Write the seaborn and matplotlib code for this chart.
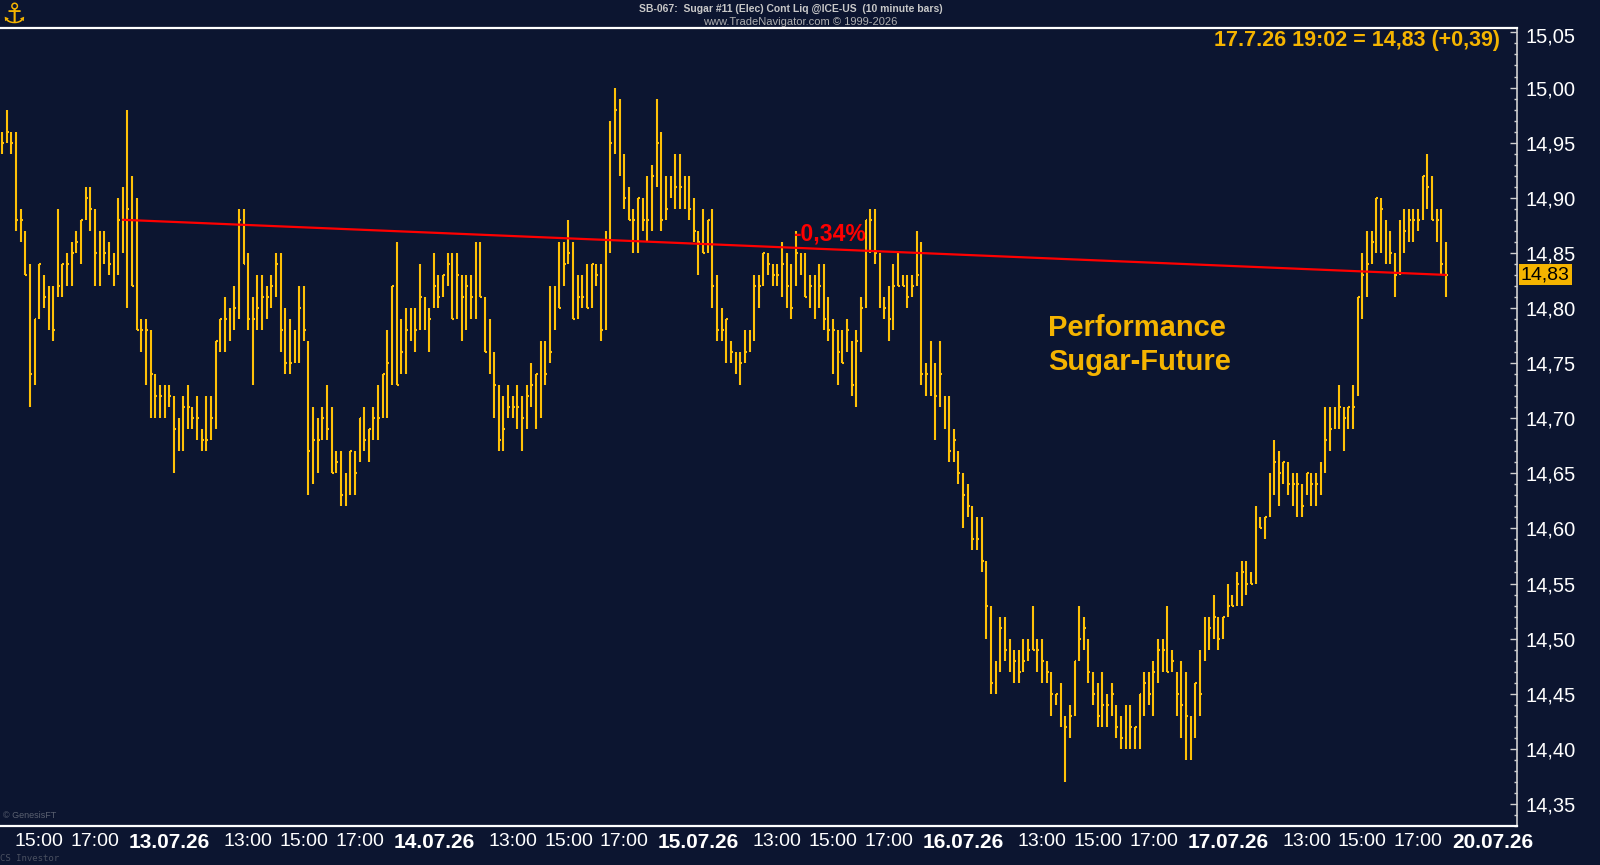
import matplotlib
matplotlib.use("Agg")
import matplotlib.pyplot as plt
import matplotlib.transforms as mtransforms
from matplotlib import ticker
import seaborn as sns
import pandas as pd

# sugar #11, 10 minute bars, session 09:30-19:00, first bar of 10.07.26 at 13:40
day_labels = ["13.07.26", "14.07.26", "15.07.26", "16.07.26", "17.07.26", "20.07.26"]
time_labels = ["13:00", "15:00", "17:00"]
first_bar_time = "13:40"
last_quote = "17.7.26 19:02 = 14,83 (+0,39)"
trend_from_bar = 26

highs = [
    14.96, 14.98, 14.96, 14.96, 14.89, 14.87, 14.84, 14.79, 14.84, 14.83, 14.82, 14.82, 14.89, 14.84, 14.85, 14.86,
    14.87, 14.88, 14.91, 14.91, 14.89, 14.87, 14.87, 14.86, 14.85, 14.90, 14.91, 14.98, 14.92, 14.90, 14.79, 14.79,
    14.78, 14.74, 14.73, 14.73, 14.73, 14.72, 14.70, 14.72, 14.73, 14.71, 14.72, 14.69, 14.72, 14.72, 14.77, 14.79,
    14.81, 14.80, 14.82, 14.89, 14.89, 14.85, 14.81, 14.83, 14.83, 14.82, 14.83, 14.85, 14.85, 14.80, 14.79, 14.78,
    14.82, 14.82, 14.77, 14.71, 14.70, 14.71, 14.73, 14.71, 14.67, 14.67, 14.65, 14.67, 14.67, 14.70, 14.71, 14.69,
    14.71, 14.73, 14.74, 14.78, 14.82, 14.86, 14.79, 14.80, 14.80, 14.80, 14.84, 14.81, 14.80, 14.85, 14.83, 14.83,
    14.85, 14.85, 14.85, 14.83, 14.83, 14.83, 14.86, 14.86, 14.81, 14.79, 14.76, 14.73, 14.72, 14.73, 14.72, 14.73,
    14.72, 14.73, 14.75, 14.74, 14.77, 14.77, 14.82, 14.82, 14.86, 14.86, 14.88, 14.86, 14.83, 14.83, 14.84, 14.84,
    14.84, 14.84, 14.87, 14.97, 15.00, 14.99, 14.94, 14.91, 14.89, 14.90, 14.90, 14.92, 14.93, 14.99, 14.96, 14.92,
    14.92, 14.94, 14.94, 14.92, 14.92, 14.90, 14.87, 14.89, 14.88, 14.89, 14.83, 14.80, 14.79, 14.77, 14.76, 14.76,
    14.78, 14.78, 14.83, 14.83, 14.85, 14.85, 14.84, 14.84, 14.86, 14.85, 14.84, 14.87, 14.85, 14.85, 14.83, 14.83,
    14.84, 14.84, 14.81, 14.79, 14.78, 14.78, 14.79, 14.77, 14.78, 14.81, 14.88, 14.89, 14.89, 14.85, 14.81, 14.82,
    14.84, 14.85, 14.83, 14.83, 14.83, 14.87, 14.86, 14.75, 14.77, 14.75, 14.77, 14.72, 14.72, 14.69, 14.67, 14.65,
    14.64, 14.62, 14.61, 14.61, 14.57, 14.53, 14.48, 14.52, 14.52, 14.50, 14.49, 14.49, 14.50, 14.50, 14.53, 14.50,
    14.50, 14.48, 14.47, 14.45, 14.46, 14.43, 14.44, 14.48, 14.53, 14.52, 14.50, 14.47, 14.46, 14.47, 14.45, 14.46,
    14.44, 14.43, 14.44, 14.44, 14.42, 14.45, 14.47, 14.47, 14.48, 14.50, 14.50, 14.53, 14.49, 14.47, 14.48, 14.47,
    14.43, 14.46, 14.49, 14.52, 14.52, 14.54, 14.52, 14.52, 14.55, 14.54, 14.56, 14.57, 14.57, 14.56, 14.62, 14.61,
    14.61, 14.65, 14.68, 14.67, 14.66, 14.66, 14.65, 14.65, 14.64, 14.65, 14.65, 14.65, 14.66, 14.71, 14.71, 14.71,
    14.73, 14.71, 14.71, 14.73, 14.81, 14.85, 14.87, 14.87, 14.90, 14.90, 14.88, 14.87, 14.85, 14.88, 14.89, 14.89,
    14.89, 14.89, 14.92, 14.94, 14.92, 14.89, 14.89, 14.86,
]
lows = [
    14.94, 14.95, 14.94, 14.87, 14.86, 14.83, 14.71, 14.73, 14.79, 14.80, 14.78, 14.77, 14.81, 14.81, 14.82, 14.82,
    14.85, 14.84, 14.88, 14.87, 14.82, 14.82, 14.84, 14.83, 14.82, 14.83, 14.85, 14.80, 14.82, 14.78, 14.76, 14.73,
    14.70, 14.70, 14.70, 14.70, 14.71, 14.65, 14.67, 14.67, 14.69, 14.69, 14.68, 14.67, 14.67, 14.68, 14.69, 14.76,
    14.76, 14.77, 14.78, 14.79, 14.84, 14.78, 14.73, 14.78, 14.78, 14.79, 14.80, 14.81, 14.76, 14.74, 14.74, 14.75,
    14.75, 14.77, 14.63, 14.64, 14.65, 14.68, 14.68, 14.65, 14.65, 14.62, 14.62, 14.63, 14.63, 14.66, 14.67, 14.66,
    14.68, 14.68, 14.70, 14.70, 14.73, 14.73, 14.74, 14.74, 14.77, 14.76, 14.78, 14.78, 14.76, 14.80, 14.80, 14.81,
    14.82, 14.79, 14.79, 14.77, 14.78, 14.79, 14.79, 14.81, 14.76, 14.74, 14.70, 14.67, 14.67, 14.70, 14.70, 14.69,
    14.67, 14.69, 14.71, 14.69, 14.70, 14.73, 14.75, 14.78, 14.80, 14.82, 14.84, 14.79, 14.79, 14.80, 14.80, 14.80,
    14.82, 14.77, 14.78, 14.85, 14.94, 14.92, 14.89, 14.88, 14.85, 14.85, 14.87, 14.86, 14.87, 14.91, 14.87, 14.88,
    14.90, 14.89, 14.89, 14.89, 14.88, 14.86, 14.83, 14.85, 14.85, 14.80, 14.77, 14.77, 14.75, 14.75, 14.74, 14.73,
    14.75, 14.76, 14.77, 14.80, 14.82, 14.83, 14.82, 14.82, 14.81, 14.80, 14.79, 14.82, 14.83, 14.81, 14.80, 14.79,
    14.80, 14.78, 14.77, 14.74, 14.73, 14.75, 14.76, 14.72, 14.71, 14.76, 14.80, 14.85, 14.84, 14.80, 14.79, 14.77,
    14.78, 14.82, 14.82, 14.80, 14.81, 14.82, 14.73, 14.72, 14.72, 14.68, 14.71, 14.69, 14.66, 14.66, 14.64, 14.60,
    14.61, 14.58, 14.58, 14.56, 14.50, 14.45, 14.45, 14.47, 14.48, 14.47, 14.46, 14.46, 14.47, 14.48, 14.49, 14.47,
    14.46, 14.46, 14.43, 14.44, 14.42, 14.37, 14.41, 14.43, 14.48, 14.49, 14.46, 14.44, 14.42, 14.42, 14.42, 14.43,
    14.41, 14.40, 14.40, 14.40, 14.40, 14.40, 14.43, 14.44, 14.43, 14.46, 14.47, 14.47, 14.47, 14.43, 14.41, 14.39,
    14.39, 14.41, 14.43, 14.48, 14.49, 14.50, 14.49, 14.50, 14.52, 14.53, 14.53, 14.53, 14.54, 14.55, 14.55, 14.60,
    14.59, 14.61, 14.63, 14.62, 14.64, 14.63, 14.62, 14.61, 14.61, 14.63, 14.62, 14.62, 14.63, 14.65, 14.67, 14.69,
    14.69, 14.67, 14.69, 14.69, 14.72, 14.79, 14.81, 14.84, 14.85, 14.85, 14.84, 14.84, 14.81, 14.83, 14.85, 14.86,
    14.86, 14.87, 14.88, 14.89, 14.88, 14.86, 14.83, 14.81,
]
closes = [
    14.95, 14.96, 14.95, 14.88, 14.88, 14.83, 14.74, 14.79, 14.84, 14.81, 14.80, 14.78, 14.82, 14.84, 14.84, 14.85,
    14.86, 14.88, 14.90, 14.89, 14.85, 14.85, 14.85, 14.84, 14.84, 14.88, 14.88, 14.89, 14.82, 14.78, 14.78, 14.78,
    14.74, 14.72, 14.72, 14.72, 14.72, 14.69, 14.68, 14.71, 14.71, 14.70, 14.70, 14.68, 14.68, 14.70, 14.77, 14.79,
    14.79, 14.78, 14.80, 14.88, 14.84, 14.79, 14.79, 14.80, 14.81, 14.81, 14.82, 14.84, 14.78, 14.75, 14.75, 14.77,
    14.80, 14.78, 14.67, 14.68, 14.68, 14.70, 14.69, 14.65, 14.66, 14.63, 14.63, 14.67, 14.65, 14.70, 14.68, 14.69,
    14.70, 14.70, 14.74, 14.75, 14.82, 14.73, 14.76, 14.78, 14.79, 14.78, 14.81, 14.79, 14.79, 14.82, 14.81, 14.83,
    14.84, 14.79, 14.83, 14.81, 14.82, 14.81, 14.85, 14.81, 14.76, 14.77, 14.73, 14.68, 14.69, 14.71, 14.71, 14.71,
    14.70, 14.72, 14.73, 14.74, 14.74, 14.74, 14.76, 14.80, 14.80, 14.84, 14.85, 14.79, 14.81, 14.81, 14.80, 14.84,
    14.83, 14.78, 14.86, 14.95, 14.98, 14.93, 14.90, 14.88, 14.88, 14.90, 14.88, 14.88, 14.92, 14.95, 14.88, 14.89,
    14.91, 14.91, 14.91, 14.90, 14.89, 14.87, 14.86, 14.85, 14.88, 14.82, 14.78, 14.78, 14.79, 14.76, 14.75, 14.75,
    14.76, 14.77, 14.82, 14.82, 14.85, 14.84, 14.83, 14.83, 14.84, 14.82, 14.80, 14.85, 14.84, 14.81, 14.82, 14.82,
    14.82, 14.79, 14.78, 14.78, 14.76, 14.75, 14.78, 14.73, 14.77, 14.80, 14.88, 14.88, 14.85, 14.81, 14.80, 14.79,
    14.82, 14.82, 14.82, 14.81, 14.82, 14.83, 14.74, 14.74, 14.74, 14.72, 14.74, 14.70, 14.67, 14.68, 14.65, 14.63,
    14.62, 14.59, 14.59, 14.57, 14.53, 14.46, 14.47, 14.51, 14.49, 14.49, 14.48, 14.47, 14.48, 14.49, 14.49, 14.49,
    14.48, 14.47, 14.45, 14.45, 14.44, 14.42, 14.43, 14.48, 14.50, 14.51, 14.47, 14.45, 14.43, 14.44, 14.44, 14.45,
    14.42, 14.41, 14.43, 14.42, 14.42, 14.45, 14.46, 14.45, 14.47, 14.49, 14.49, 14.47, 14.48, 14.45, 14.44, 14.43,
    14.41, 14.46, 14.45, 14.49, 14.51, 14.52, 14.50, 14.52, 14.53, 14.53, 14.55, 14.56, 14.55, 14.55, 14.60, 14.60,
    14.61, 14.63, 14.66, 14.65, 14.66, 14.64, 14.64, 14.64, 14.62, 14.65, 14.64, 14.64, 14.65, 14.68, 14.69, 14.70,
    14.71, 14.70, 14.71, 14.71, 14.81, 14.83, 14.84, 14.86, 14.90, 14.89, 14.86, 14.85, 14.83, 14.86, 14.87, 14.88,
    14.88, 14.88, 14.92, 14.91, 14.88, 14.88, 14.84, 14.83,
]

BG = "#0c1530"
BAR = "#ffc107"
GOLD = "#f5b400"
RED = "#ff0000"

sns.set_theme(style="dark", rc={"axes.facecolor": BG, "figure.facecolor": BG})
plt.rcParams["font.family"] = ["Liberation Sans", "DejaVu Sans"]

df = pd.DataFrame({"bar": range(len(closes)), "high": highs, "low": lows, "close": closes})


def minutes(s):
    h, m = s.split(":")
    return int(h) * 60 + int(m)


open_min, close_min = minutes("09:30"), minutes("19:00")
per_day = (close_min - open_min) // 10
first_day = (close_min - minutes(first_bar_time)) // 10

tick_pos, tick_lab, tick_bold = [], [], []
for t in time_labels:
    if minutes(t) > minutes(first_bar_time):
        tick_pos.append((minutes(t) - minutes(first_bar_time)) / 10)
        tick_lab.append(t)
        tick_bold.append(False)
for k, d in enumerate(day_labels):
    start = first_day + k * per_day
    tick_pos.append(start + 4)
    tick_lab.append(d)
    tick_bold.append(True)
    if k < len(day_labels) - 1:
        for t in time_labels:
            tick_pos.append(start + (minutes(t) - open_min) / 10)
            tick_lab.append(t)
            tick_bold.append(False)

fig = plt.figure(figsize=(16, 8.65), dpi=100)
ax = fig.add_axes([0.0, 0.0451, 0.9481, 0.9225])

ax.vlines(df["bar"], df["low"], df["high"], color=BAR, lw=1.5)
ax.hlines(df["close"], df["bar"], df["bar"] + 0.4, color=BAR, lw=1.5)

# trend line from the anchor bar to the last bar
trend = df.iloc[[trend_from_bar, len(df) - 1]]
sns.lineplot(data=trend, x="bar", y="close", color=RED, lw=1.6, ax=ax)
pct = (closes[-1] / closes[trend_from_bar] - 1) * 100
ax.text(178.3, 14.867, f"{pct:.2f}%".replace(".", ","), color=RED, fontsize=16.5,
        fontweight="bold", ha="center", va="center")

ax.text(225.3, 14.7742, "Performance", color=GOLD, fontsize=21, fontweight="bold", va="baseline")
ax.text(225.3, 14.7439, "Sugar-Future", color=GOLD, fontsize=21, fontweight="bold", va="baseline")

ax.set_xlim(-0.45, 326.3)
ax.set_ylim(14.330, 15.054)
ax.set_xlabel("")
ax.set_ylabel("")

# price axis on the right; the top label is nudged down inside the frame
top_level = 15.05
ax.yaxis.tick_right()
ax.yaxis.set_major_locator(ticker.MultipleLocator(0.05))
ax.yaxis.set_minor_locator(ticker.MultipleLocator(0.01))
ax.yaxis.set_major_formatter(ticker.FuncFormatter(
    lambda v, _: "" if v > top_level - 0.001 else f"{v:.2f}".replace(".", ",")))
ax.tick_params(axis="y", which="both", direction="in", colors="#d0d0d0", labelcolor="white",
               labelsize=14.5, pad=6, right=True, left=False)
ax.tick_params(axis="y", which="major", length=5, width=1)
ax.tick_params(axis="y", which="minor", length=2.5, width=1)

blend = mtransforms.blended_transform_factory(ax.transAxes, ax.transData)
ax.text(1.0055, 15.0455, f"{top_level:.2f}".replace(".", ","), transform=blend, color="white",
        fontsize=14.5, ha="left", va="center", clip_on=False)

ax.set_xticks(tick_pos)
ax.set_xticklabels(tick_lab)
ax.tick_params(axis="x", length=0, pad=5, labelcolor="white", labelsize=14)
for lab, bold in zip(ax.get_xticklabels(), tick_bold):
    if bold:
        lab.set_fontweight("bold")
        lab.set_fontsize(15)

for side in ["top", "bottom"]:
    ax.spines[side].set_visible(True)
    ax.spines[side].set_color("white")
    ax.spines[side].set_linewidth(1.6)
ax.spines["right"].set_color("#d0d0d0")
ax.spines["right"].set_linewidth(1.2)
ax.spines["left"].set_visible(False)
ax.grid(False)

# last price marker on the axis
ax.text(1.0025, closes[-1], f"{closes[-1]:.2f}".replace(".", ","), transform=blend, color="black",
        fontsize=14, ha="left", va="center",
        bbox=dict(boxstyle="square,pad=0.1", fc=GOLD, ec="none"), clip_on=False)

ax.text(322.6, 15.038, last_quote, color=GOLD, fontsize=15.5, fontweight="bold", ha="right", va="baseline")

fig.text(0.494, 0.9896, "SB-067:  Sugar #11 (Elec) Cont Liq @ICE-US  (10 minute bars)", color="#c8c8c8",
         fontsize=7.5, fontweight="bold", ha="center", va="center")
fig.text(0.5, 0.9746, "www.TradeNavigator.com \u00a9 1999-2026", color="#b0b0b0",
         fontsize=8, ha="center", va="center")
fig.text(0.001, 0.983, "\u2693", color=GOLD, fontsize=20, ha="left", va="center", family="DejaVu Sans")
fig.text(0.002, 0.057, "\u00a9 GenesisFT", color="#5a6070", fontsize=6.5, ha="left", va="center")
fig.text(0.0, 0.008, "CS Investor", color="#4a5060", fontsize=6.5, ha="left", va="center",
         family="DejaVu Sans Mono")

fig.savefig("out.png", dpi=100, facecolor=BG)
